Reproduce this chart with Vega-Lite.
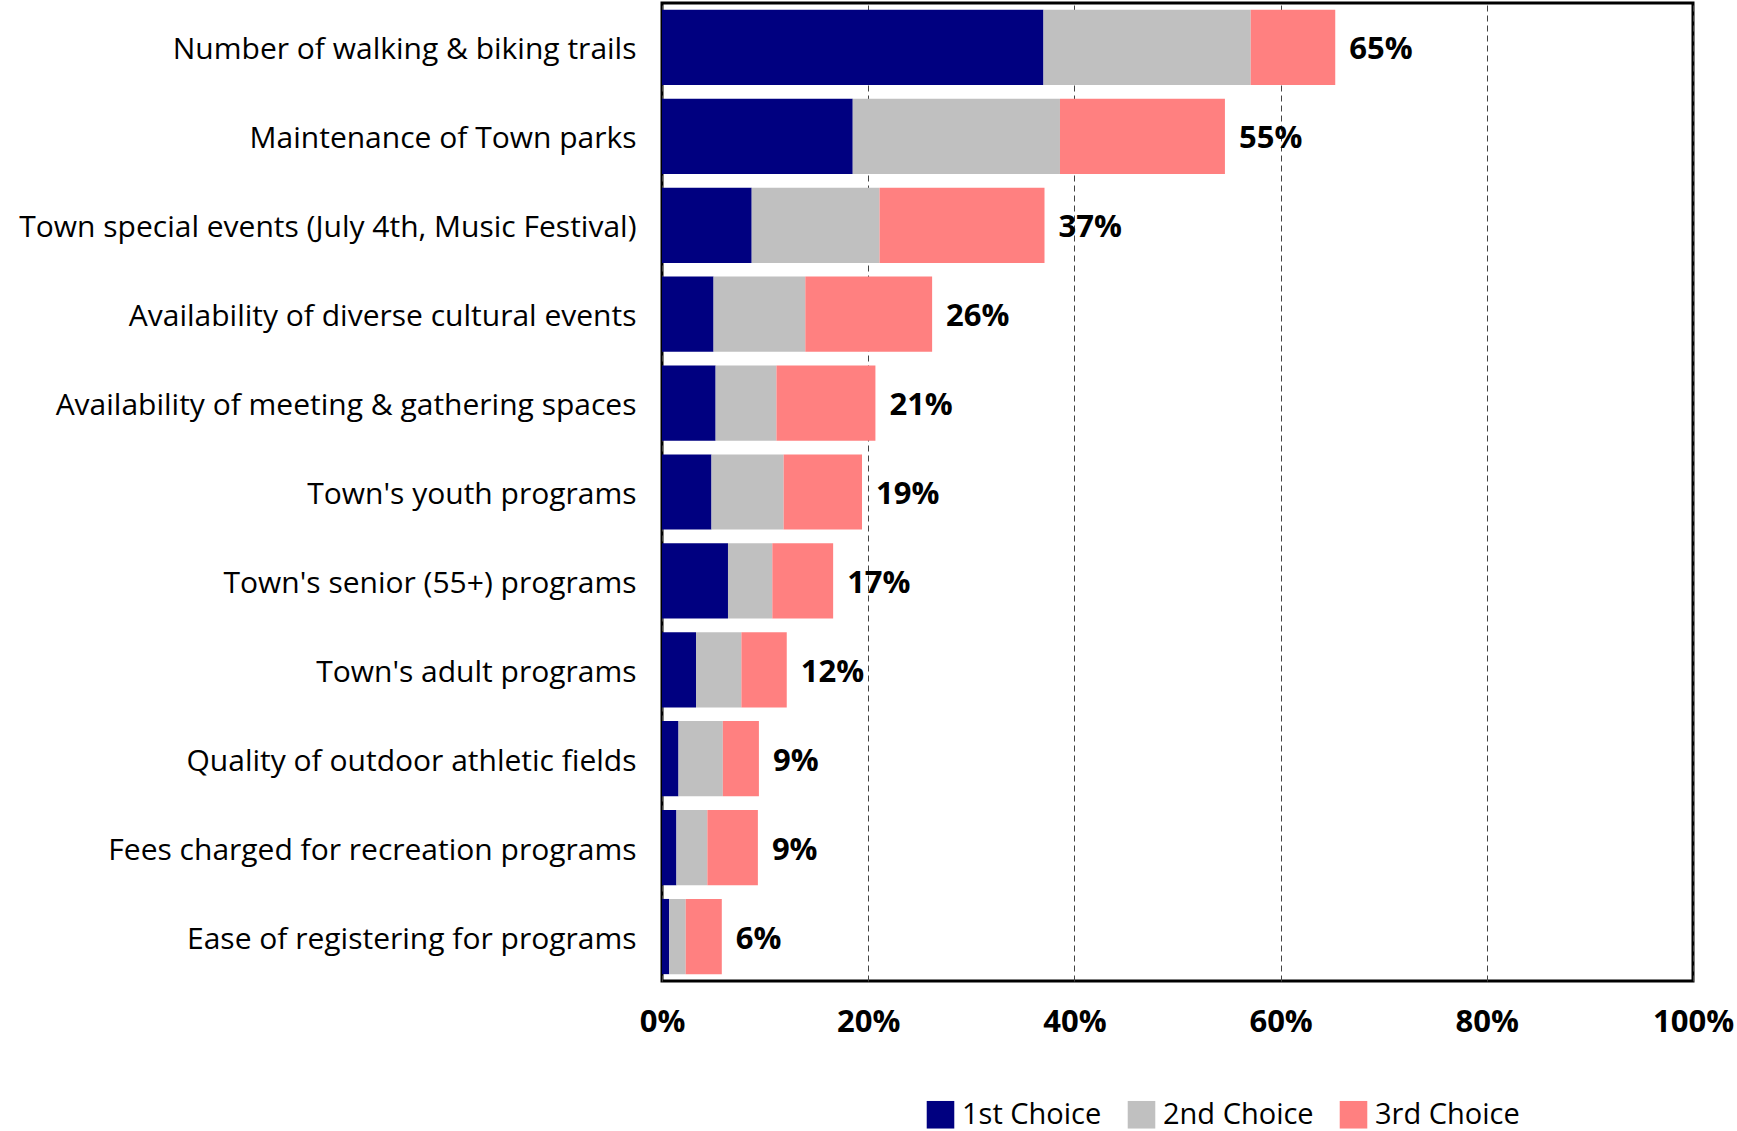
{
  "$schema": "https://vega.github.io/schema/vega-lite/v6.json",
  "autosize": {"type": "none"},
  "padding": {"left": 662, "top": 3, "right": 44, "bottom": 150},
  "width": 1031,
  "height": 978,
  "background": "white",
  "config": {
    "view": {"stroke": "black", "strokeWidth": 3},
    "font": "Open Sans"
  },
  "data": {
    "values": [
      {"cat": "Number of walking & biking trails", "choice": "1st Choice", "ord": 1, "value": 0.370},
      {"cat": "Number of walking & biking trails", "choice": "2nd Choice", "ord": 2, "value": 0.201},
      {"cat": "Number of walking & biking trails", "choice": "3rd Choice", "ord": 3, "value": 0.082},
      {"cat": "Maintenance of Town parks", "choice": "1st Choice", "ord": 1, "value": 0.185},
      {"cat": "Maintenance of Town parks", "choice": "2nd Choice", "ord": 2, "value": 0.201},
      {"cat": "Maintenance of Town parks", "choice": "3rd Choice", "ord": 3, "value": 0.160},
      {"cat": "Town special events (July 4th, Music Festival)", "choice": "1st Choice", "ord": 1, "value": 0.087},
      {"cat": "Town special events (July 4th, Music Festival)", "choice": "2nd Choice", "ord": 2, "value": 0.124},
      {"cat": "Town special events (July 4th, Music Festival)", "choice": "3rd Choice", "ord": 3, "value": 0.160},
      {"cat": "Availability of diverse cultural events", "choice": "1st Choice", "ord": 1, "value": 0.050},
      {"cat": "Availability of diverse cultural events", "choice": "2nd Choice", "ord": 2, "value": 0.089},
      {"cat": "Availability of diverse cultural events", "choice": "3rd Choice", "ord": 3, "value": 0.123},
      {"cat": "Availability of meeting & gathering spaces", "choice": "1st Choice", "ord": 1, "value": 0.052},
      {"cat": "Availability of meeting & gathering spaces", "choice": "2nd Choice", "ord": 2, "value": 0.059},
      {"cat": "Availability of meeting & gathering spaces", "choice": "3rd Choice", "ord": 3, "value": 0.096},
      {"cat": "Town's youth programs", "choice": "1st Choice", "ord": 1, "value": 0.048},
      {"cat": "Town's youth programs", "choice": "2nd Choice", "ord": 2, "value": 0.070},
      {"cat": "Town's youth programs", "choice": "3rd Choice", "ord": 3, "value": 0.076},
      {"cat": "Town's senior (55+) programs", "choice": "1st Choice", "ord": 1, "value": 0.064},
      {"cat": "Town's senior (55+) programs", "choice": "2nd Choice", "ord": 2, "value": 0.043},
      {"cat": "Town's senior (55+) programs", "choice": "3rd Choice", "ord": 3, "value": 0.059},
      {"cat": "Town's adult programs", "choice": "1st Choice", "ord": 1, "value": 0.033},
      {"cat": "Town's adult programs", "choice": "2nd Choice", "ord": 2, "value": 0.044},
      {"cat": "Town's adult programs", "choice": "3rd Choice", "ord": 3, "value": 0.044},
      {"cat": "Quality of outdoor athletic fields", "choice": "1st Choice", "ord": 1, "value": 0.016},
      {"cat": "Quality of outdoor athletic fields", "choice": "2nd Choice", "ord": 2, "value": 0.043},
      {"cat": "Quality of outdoor athletic fields", "choice": "3rd Choice", "ord": 3, "value": 0.035},
      {"cat": "Fees charged for recreation programs", "choice": "1st Choice", "ord": 1, "value": 0.014},
      {"cat": "Fees charged for recreation programs", "choice": "2nd Choice", "ord": 2, "value": 0.030},
      {"cat": "Fees charged for recreation programs", "choice": "3rd Choice", "ord": 3, "value": 0.049},
      {"cat": "Ease of registering for programs", "choice": "1st Choice", "ord": 1, "value": 0.007},
      {"cat": "Ease of registering for programs", "choice": "2nd Choice", "ord": 2, "value": 0.016},
      {"cat": "Ease of registering for programs", "choice": "3rd Choice", "ord": 3, "value": 0.035}
    ]
  },
  "encoding": {
    "y": {
      "field": "cat",
      "type": "nominal",
      "sort": null,
      "scale": {"paddingInner": 0.154, "paddingOuter": 0.077},
      "axis": {
        "title": null,
        "domain": false,
        "ticks": false,
        "labelFont": "Open Sans",
        "labelFontSize": 30,
        "labelColor": "black",
        "labelPadding": 26,
        "labelOffset": 3,
        "labelLimit": 700
      }
    }
  },
  "layer": [
    {
      "mark": {"type": "bar"},
      "encoding": {
        "x": {
          "field": "value",
          "type": "quantitative",
          "stack": "zero",
          "scale": {"domain": [0, 1], "nice": false},
          "axis": {
            "title": null,
            "format": ".0%",
            "values": [0, 0.2, 0.4, 0.6, 0.8, 1],
            "domain": false,
            "ticks": false,
            "grid": true,
            "gridColor": "#444444",
            "gridDash": [6, 4],
            "gridWidth": 1,
            "labelFont": "Open Sans",
            "labelFontWeight": "bold",
            "labelFontSize": 31,
            "labelColor": "black",
            "labelPadding": 26,
            "labelFlush": false,
            "labelOverlap": false,
            "labelBound": false
          }
        },
        "color": {
          "field": "choice",
          "type": "nominal",
          "scale": {
            "domain": ["1st Choice", "2nd Choice", "3rd Choice"],
            "range": ["#000080", "#C0C0C0", "#FF8080"]
          },
          "legend": {
            "title": null,
            "orient": "none",
            "direction": "horizontal",
            "legendX": 264,
            "legendY": 1097,
            "symbolType": "square",
            "symbolSize": 760,
            "symbolStrokeWidth": 0,
            "symbolOpacity": 1,
            "labelFont": "Open Sans",
            "labelFontSize": 29,
            "labelColor": "black",
            "labelOffset": 7,
            "columnPadding": 25,
            "labelLimit": 300
          }
        },
        "order": {"field": "ord", "type": "quantitative"}
      }
    },
    {
      "mark": {
        "type": "text",
        "align": "left",
        "baseline": "middle",
        "dx": 14,
        "dy": 3,
        "font": "Open Sans",
        "fontWeight": "bold",
        "fontSize": 31,
        "color": "black"
      },
      "encoding": {
        "x": {"aggregate": "sum", "field": "value", "type": "quantitative"},
        "text": {"aggregate": "sum", "field": "value", "type": "quantitative", "format": ".0%"}
      }
    }
  ]
}
